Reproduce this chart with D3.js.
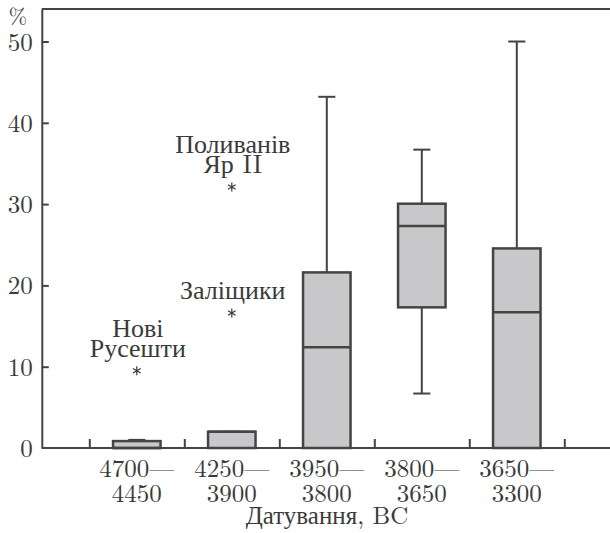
<!DOCTYPE html>
<html>
<head>
<meta charset="utf-8">
<script src="https://cdn.jsdelivr.net/npm/d3@7/dist/d3.min.js"></script>
<style>
html,body{margin:0;padding:0;background:#fff;}
svg{display:block;}
</style>
</head>
<body>
<svg id="chart" width="610" height="533"></svg>
<script>
// ---- data ----
const categories = [["4700—","4450"],["4250—","3900"],["3950—","3800"],["3800—","3650"],["3650—","3300"]];
const whiskerLow  = [0,    0,   0,    6.7,  0];
const q1          = [0,    0,   0,    17.3, 0];
const median      = [0,    2.0, 12.4, 27.3, 16.7];
const q3          = [0.85, 2.0, 21.6, 30.05,24.55];
const whiskerHigh = [1.0,  2.0, 43.2, 36.7, 50.0];
const outlierCat    = [1, 2, 2];
const outlierValue  = [9.5, 16.6, 32.1];
const outlierLabels = [["Нові","Русешти"],["Заліщики"],["Поливанів","Яр II"]];
const yTicks = [0,10,20,30,40,50];
const xTickPositions = [0.5,1.5,2.5,3.5,4.5,5.5];
const yTitle = "%";
const xTitle = "Датування, BC";

// ---- layout ----
const LATIN = "'Latin Modern Roman','Liberation Serif',serif";
const CYR = "'Liberation Serif',serif";
const TXT = "#3a3a3a";
const svg = d3.select("#chart");
const x = d3.scaleLinear().domain([0,6]).range([41.8, 611.8]);
const y = d3.scaleLinear().domain([0,54]).range([448, 9]);
const ink = "#444";
const fill = "#c8c8ca";
const fontSize = 25;

// write a line, splitting Cyrillic runs into a serif font that has them
function runs(parent, str) {
  const parts = str.match(/[\u0400-\u04FF]+|[^\u0400-\u04FF]+/g) || [];
  parts.forEach(p => {
    parent.append("tspan").attr("font-family", /[\u0400-\u04FF]/.test(p) ? CYR : LATIN).text(p);
  });
}

// top frame line
svg.append("line").attr("x1",x(0)).attr("x2",610).attr("y1",y(54)).attr("y2",y(54))
  .attr("stroke",ink).attr("stroke-width",2);

// y axis
const yAxis = svg.append("g").attr("transform",`translate(${x(0)},0)`)
  .call(d3.axisLeft(y).tickValues(yTicks).tickSizeInner(-7).tickSizeOuter(0).tickPadding(9).tickFormat(d3.format("d")));
yAxis.attr("font-family",LATIN);
yAxis.select(".domain").attr("stroke",ink).attr("stroke-width",2);
yAxis.selectAll(".tick line").attr("stroke",ink).attr("stroke-width",2).filter(d=>d===0).remove();
yAxis.selectAll(".tick text").attr("font-size",fontSize).attr("font-family",LATIN).attr("fill",TXT).attr("dy","0.34em");

svg.append("text").attr("x",18).attr("y",24).attr("text-anchor","middle").attr("font-family",LATIN)
  .attr("fill",TXT).attr("font-size",22).text(yTitle);

// x axis
const xAxis = svg.append("g").attr("transform",`translate(0,${y(0)})`)
  .call(d3.axisBottom(x).tickValues(xTickPositions).tickSizeInner(-9).tickSizeOuter(0).tickFormat(""));
xAxis.select(".domain").attr("d",`M${x(0)},0H610`).attr("stroke",ink).attr("stroke-width",2);
xAxis.selectAll(".tick line").attr("stroke",ink).attr("stroke-width",2);

// category labels
categories.forEach((c,i)=>{
  const t = svg.append("text").attr("text-anchor","middle").attr("font-size",fontSize)
    .attr("font-family",LATIN).attr("fill",TXT);
  c.forEach((line,j)=>{
    t.append("tspan").attr("x",x(i+1)).attr("y",477 + j*25).text(line);
  });
});
const xt = svg.append("text").attr("x",327).attr("y",524).attr("text-anchor","middle").attr("font-size",25)
  .attr("font-family",LATIN).attr("fill",TXT);
runs(xt, xTitle);

// boxes
const boxW = 0.5, capW = 0.18;
const data = categories.map((c,i)=>({i:i+1, lo:whiskerLow[i], q1:q1[i], med:median[i], q3:q3[i], hi:whiskerHigh[i]}));
const g = svg.append("g");
data.forEach(d=>{
  const cx = x(d.i);
  g.append("line").attr("x1",cx).attr("x2",cx).attr("y1",y(d.q3)).attr("y2",y(d.hi)).attr("stroke",ink).attr("stroke-width",2);
  g.append("line").attr("x1",x(d.i-capW/2)).attr("x2",x(d.i+capW/2)).attr("y1",y(d.hi)).attr("y2",y(d.hi)).attr("stroke",ink).attr("stroke-width",2);
  if (d.lo < d.q1) {
    g.append("line").attr("x1",cx).attr("x2",cx).attr("y1",y(d.q1)).attr("y2",y(d.lo)).attr("stroke",ink).attr("stroke-width",2);
    g.append("line").attr("x1",x(d.i-capW/2)).attr("x2",x(d.i+capW/2)).attr("y1",y(d.lo)).attr("y2",y(d.lo)).attr("stroke",ink).attr("stroke-width",2);
  }
  g.append("rect").attr("x",x(d.i-boxW/2)).attr("width",x(d.i+boxW/2)-x(d.i-boxW/2))
    .attr("y",y(d.q3)).attr("height",y(d.q1)-y(d.q3))
    .attr("fill",fill).attr("stroke",ink).attr("stroke-width",2.5);
  g.append("line").attr("x1",x(d.i-boxW/2)).attr("x2",x(d.i+boxW/2)).attr("y1",y(d.med)).attr("y2",y(d.med)).attr("stroke",ink).attr("stroke-width",2.5);
});

// outliers
const star = d3.symbol(d3.symbolAsterisk, 55);
outlierCat.forEach((c,k)=>{
  const cx = x(c), cy = y(outlierValue[k]);
  svg.append("path").attr("d",star()).attr("transform",`translate(${cx},${cy})`)
    .attr("fill","none").attr("stroke",TXT).attr("stroke-width",1.2);
  const lines = outlierLabels[k];
  const t = svg.append("text").attr("text-anchor","middle").attr("font-size",26)
    .attr("font-family",LATIN).attr("fill",TXT);
  lines.forEach((ln,j)=>{
    const ts = t.append("tspan").attr("x",cx+1).attr("y",cy - 14 - (lines.length-1-j)*20);
    runs(ts, ln);
  });
});
</script>
</body>
</html>
